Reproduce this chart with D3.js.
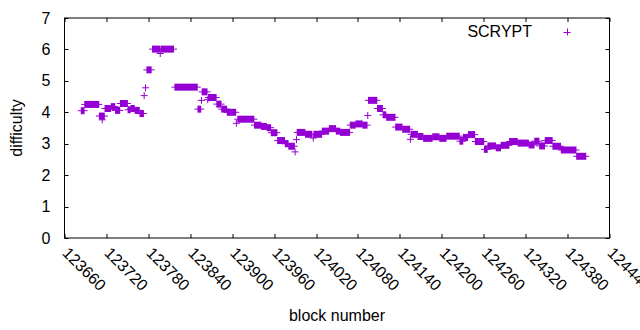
<!DOCTYPE html>
<html>
<head>
<meta charset="utf-8">
<script src="https://cdn.jsdelivr.net/npm/d3@7"></script>
<style>
  body { margin: 0; background: #fff; }
  text { font-family: "Liberation Sans", Arial, sans-serif; font-size: 16px; fill: #000; }
</style>
</head>
<body>
<script>
// runs of blocks with the same difficulty (first block, last block, difficulty)
var runStart = [123684, 123689, 123710, 123714, 123718, 123727, 123733, 123740, 123751, 123755,
  123761, 123768, 123774, 123776, 123778, 123786, 123797, 123798, 123818, 123851,
  123856, 123857, 123865, 123866, 123878, 123885, 123893, 123906, 123908, 123932,
  123942, 123950, 123956, 123965, 123976, 123981, 123990, 123992, 123993, 124005,
  124016, 124017, 124029, 124039, 124049, 124055, 124069, 124077, 124087, 124094,
  124095, 124108, 124116, 124121, 124134, 124144, 124155, 124156, 124166, 124174,
  124187, 124197, 124207, 124226, 124231, 124238, 124248, 124261, 124266, 124278,
  124285, 124297, 124309, 124325, 124333, 124340, 124348, 124359, 124371, 124393];
var runEnd = [123688, 123709, 123717, 123714, 123726, 123732, 123739, 123750, 123754, 123760,
  123767, 123773, 123774, 123776, 123784, 123796, 123797, 123816, 123850, 123855,
  123856, 123864, 123865, 123877, 123884, 123892, 123905, 123906, 123931, 123941,
  123949, 123955, 123964, 123975, 123980, 123989, 123990, 123992, 124004, 124014,
  124016, 124028, 124038, 124048, 124054, 124068, 124076, 124086, 124093, 124094,
  124107, 124115, 124120, 124133, 124143, 124154, 124155, 124165, 124173, 124186,
  124196, 124206, 124225, 124230, 124237, 124247, 124260, 124265, 124277, 124284,
  124296, 124308, 124324, 124332, 124339, 124347, 124358, 124370, 124392, 124406];
var runDifficulty = [4.05, 4.25, 3.88, 3.76, 4.12, 4.18, 4.06, 4.28, 4.08, 4.12,
  4.06, 3.96, 4.53, 4.78, 5.35, 6.01, 5.87, 6.01, 4.8, 4.1,
  4.38, 4.65, 4.4, 4.47, 4.26, 4.1, 4.0, 3.65, 3.78, 3.59,
  3.55, 3.51, 3.35, 3.1, 3.0, 2.92, 2.74, 3.13, 3.36, 3.3,
  3.18, 3.3, 3.4, 3.48, 3.4, 3.36, 3.59, 3.63, 3.59, 3.9,
  4.38, 4.12, 3.92, 3.84, 3.53, 3.46, 3.14, 3.3, 3.23, 3.17,
  3.22, 3.17, 3.24, 3.08, 3.2, 3.29, 3.07, 2.82, 2.93, 2.87,
  2.95, 3.07, 3.02, 2.96, 3.08, 2.93, 3.1, 2.92, 2.8, 2.6];

var xTicks = [123660, 123720, 123780, 123840, 123900, 123960, 124020, 124080,
  124140, 124200, 124260, 124320, 124380, 124440];
var yTicks = [0, 1, 2, 3, 4, 5, 6, 7];
var seriesName = "SCRYPT";

var svgWidth = 640;
var svgHeight = 330;
var margin = { top: 18, right: 30.5, bottom: 92, left: 64.5 };
var chartWidth = svgWidth - margin.left - margin.right;
var chartHeight = svgHeight - margin.top - margin.bottom;
var color = "#9400d3";
var half = 3.5;   // half size of the "+" marker

var svg = d3.select("body").append("svg")
  .attr("width", svgWidth)
  .attr("height", svgHeight);

var chartGroup = svg.append("g")
  .attr("transform", `translate(${margin.left},${margin.top})`);

var xScale = d3.scaleLinear().domain([123660, 124440]).range([0, chartWidth]);
var yScale = d3.scaleLinear().domain([0, 7]).range([chartHeight, 0]);

var runs = runStart.map(function(s, i) {
  return { start: s, end: runEnd[i], value: runDifficulty[i] };
});

// points: consecutive "+" markers at one value merge into a bar
var pts = chartGroup.append("g");
pts.selectAll("rect.run").data(runs).enter().append("rect")
  .attr("class", "run")
  .attr("x", d => xScale(d.start) - 0.5)
  .attr("width", d => xScale(d.end) - xScale(d.start) + 1)
  .attr("y", d => yScale(d.value) - half)
  .attr("height", half * 2)
  .attr("fill", color);
pts.selectAll("line.run").data(runs).enter().append("line")
  .attr("class", "run")
  .attr("x1", d => xScale(d.start) - half)
  .attr("x2", d => xScale(d.end) + half)
  .attr("y1", d => yScale(d.value))
  .attr("y2", d => yScale(d.value))
  .attr("stroke", color)
  .attr("stroke-width", 1);

// ticks (inward, mirrored)
var tickLen = 4;
var axes = chartGroup.append("g").attr("stroke", "#000").attr("stroke-width", 1);
xTicks.forEach(function(t) {
  var x = Math.round(xScale(t)) + 0.5;
  axes.append("line").attr("x1", x).attr("x2", x).attr("y1", chartHeight).attr("y2", chartHeight - tickLen);
  axes.append("line").attr("x1", x).attr("x2", x).attr("y1", 0).attr("y2", tickLen);
});
yTicks.forEach(function(t) {
  var y = Math.round(yScale(t)) + 0.5;
  axes.append("line").attr("x1", 0).attr("x2", tickLen).attr("y1", y).attr("y2", y);
  axes.append("line").attr("x1", chartWidth).attr("x2", chartWidth - tickLen).attr("y1", y).attr("y2", y);
});
chartGroup.append("rect")
  .attr("x", 0).attr("y", 0)
  .attr("width", chartWidth).attr("height", chartHeight)
  .attr("fill", "none").attr("stroke", "#000").attr("stroke-width", 1);

// tick labels
chartGroup.selectAll("text.ylab").data(yTicks).enter().append("text")
  .attr("class", "ylab")
  .attr("x", -14)
  .attr("y", d => yScale(d))
  .attr("dy", "0.35em")
  .attr("text-anchor", "end")
  .text(d => d);

chartGroup.selectAll("text.xlab").data(xTicks).enter().append("text")
  .attr("class", "xlab")
  .attr("transform", d => `translate(${xScale(d) + 1},${chartHeight + 12}) rotate(45)`)
  .attr("text-anchor", "start")
  .attr("dy", "0.35em")
  .text(d => d);

// axis titles
svg.append("text")
  .attr("transform", `translate(22,${margin.top + chartHeight / 2}) rotate(-90)`)
  .attr("text-anchor", "middle")
  .text("difficulty");
svg.append("text")
  .attr("x", margin.left + chartWidth / 2)
  .attr("y", 321)
  .attr("text-anchor", "middle")
  .text("block number");

// legend
svg.append("text")
  .attr("x", 532)
  .attr("y", 37)
  .attr("text-anchor", "end")
  .text(seriesName);
var lg = svg.append("g").attr("stroke", color).attr("stroke-width", 1);
lg.append("line").attr("x1", 567 - half).attr("x2", 567 + half).attr("y1", 32.5).attr("y2", 32.5);
lg.append("line").attr("x1", 567.5).attr("x2", 567.5).attr("y1", 32 - half).attr("y2", 32 + half);
</script>
</body>
</html>
